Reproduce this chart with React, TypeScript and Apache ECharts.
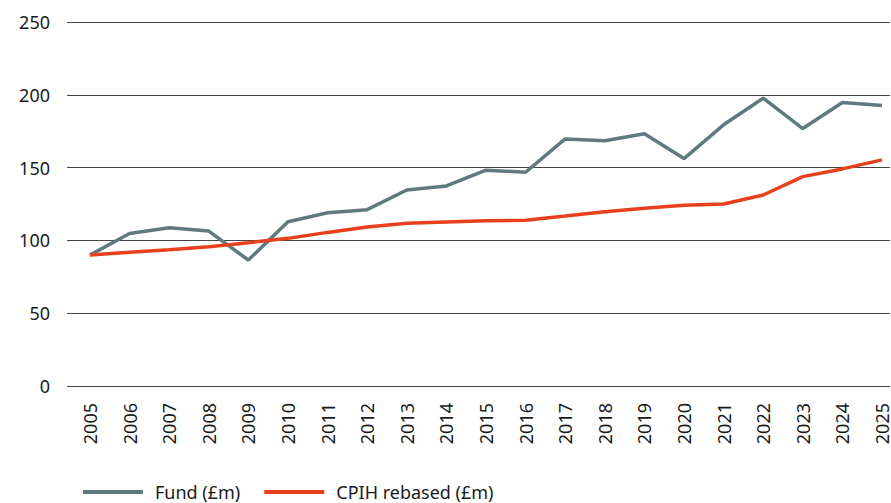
import React, { useEffect, useRef } from "react";
import * as echarts from "echarts";

const years = [2005, 2006, 2007, 2008, 2009, 2010, 2011, 2012, 2013, 2014, 2015, 2016, 2017, 2018, 2019, 2020, 2021, 2022, 2023, 2024, 2025];
const fundValues = [89.9, 104.8, 108.7, 106.4, 86.5, 112.8, 119.0, 121.1, 134.6, 137.4, 148.2, 146.8, 169.7, 168.5, 173.2, 156.2, 179.4, 197.7, 176.8, 194.7, 192.6];
const cpihValues = [89.9, 91.8, 93.6, 95.6, 98.4, 101.4, 105.5, 109.2, 111.7, 112.6, 113.5, 113.8, 116.7, 119.7, 122.0, 124.1, 125.0, 131.2, 143.8, 149.1, 155.3];
const yTicks = [0, 50, 100, 150, 200, 250];
const seriesNames = ["Fund (£m)", "CPIH rebased (£m)"];

const FONT = "'Noto Sans', 'Open Sans', sans-serif";

export default function App() {
  const ref = useRef<HTMLDivElement>(null);
  useEffect(() => {
    if (!ref.current) return;
    const chart = echarts.init(ref.current, null, { renderer: "svg" });
    chart.setOption({
      animation: false,
      grid: { left: 67, right: 0, top: 22, bottom: 117, containLabel: false },
      legend: {
        left: 78,
        bottom: -3,
        itemWidth: 60,
        itemHeight: 4,
        itemGap: 24,
        icon: "rect",
        textStyle: { fontFamily: FONT, fontSize: 18, color: "#1a1a1a", padding: [0, 0, 0, 7] },
        data: seriesNames,
      },
      xAxis: {
        type: "value",
        min: 2004.42,
        max: 2025.2,
        axisLine: { show: false },
        axisTick: { show: false },
        splitLine: { show: false },
        axisLabel: {
          customValues: years,
          rotate: 90,
          margin: 17,
          fontFamily: FONT,
          fontSize: 18,
          color: "#1a1a1a",
          formatter: (v: number) => String(Math.round(v)),
        },
      },
      yAxis: {
        type: "value",
        min: yTicks[0],
        max: yTicks[yTicks.length - 1],
        interval: 50,
        axisLine: { show: false },
        axisTick: { show: false },
        axisLabel: { margin: 17, fontFamily: FONT, fontSize: 18, color: "#1a1a1a" },
        splitLine: { lineStyle: { color: "#444", width: 1 } },
      },
      series: [
        {
          name: seriesNames[0],
          type: "line",
          data: years.map((y, i) => [y, fundValues[i]]),
          symbol: "none",
          lineStyle: { color: "#5e7a7f", width: 3.5 },
          itemStyle: { color: "#5e7a7f" },
          z: 2,
        },
        {
          name: seriesNames[1],
          type: "line",
          data: years.map((y, i) => [y, cpihValues[i]]),
          symbol: "none",
          lineStyle: { color: "#e8401c", width: 3.5 },
          itemStyle: { color: "#e8401c" },
          z: 3,
        },
      ],
    });
    return () => chart.dispose();
  }, []);
  return <div ref={ref} style={{ width: 891, height: 503, position: "absolute", left: 0, top: 0 }} />;
}
